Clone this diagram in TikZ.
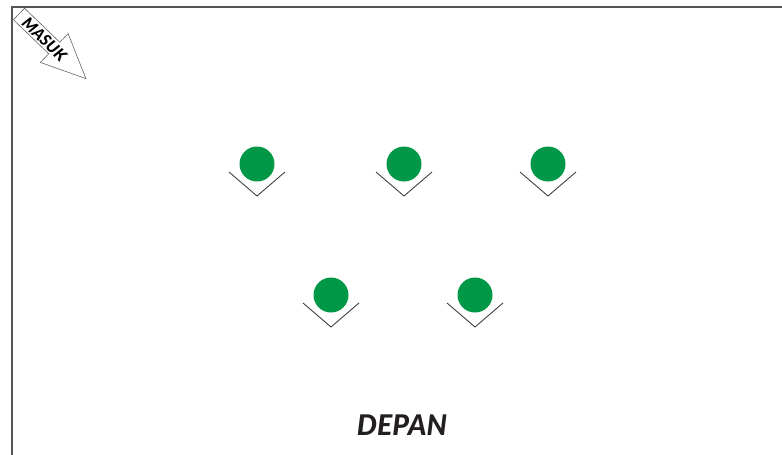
\documentclass[tikz,border=0pt]{standalone}
\usepackage{fontspec}
\setsansfont{Lato}[BoldItalicFont={Lato Black Italic}]
\definecolor{seatgreen}{RGB}{0,152,70}
\definecolor{inkdark}{RGB}{35,31,32}
\definecolor{framegray}{RGB}{85,85,85}
\tikzset{
  seat/.style={circle, fill=seatgreen, minimum size=35pt, inner sep=0pt},
  seatmark/.style={draw=black!75, line width=0.9pt},
  enterarrow/.style={draw=black!60, fill=white, line width=0.6pt, line join=miter},
}
\begin{document}
\begin{tikzpicture}[x=1pt,y=-1pt]

% -------------------------------------------------
% Cadre
% -------------------------------------------------
\useasboundingbox (0,0) rectangle (782,455);
\draw[framegray, line width=1.4pt] (12,455) -- (12,7) -- (782,7);

% -------------------------------------------------
% Fleche MASUK
% -------------------------------------------------
\begin{scope}[shift={(19,14)}, rotate=-44]
  \draw[enterarrow] (0,8) -- (49,8) -- (49,20) -- (93,0)
        -- (49,-20) -- (49,-8) -- (0,-8) -- cycle;
  \node[rotate=-44, inner sep=0pt] (masuk) at (36,0.5)
        {\fontsize{16}{16}\selectfont\sffamily\bfseries\itshape MASUK};
\end{scope}

% -------------------------------------------------
% Places (rang arriere puis rang avant)
% -------------------------------------------------
\foreach \n/\x/\y in {a/257/164, b/404/164, c/548/164, d/331/295, e/475/295}{
  \node[seat] (\n) at (\x,\y) {};
  \draw[seatmark] ([shift={(-28,8)}]\n.center) -- ([shift={(0,32)}]\n.center)
                  -- ([shift={(28,8)}]\n.center);
}

% -------------------------------------------------
% Label
% -------------------------------------------------
\node[anchor=base, inner sep=0pt, text=inkdark] (depan) at (402,435)
  {\fontsize{28.5}{28.5}\selectfont\sffamily\bfseries\itshape DEPAN};

\end{tikzpicture}
\end{document}
